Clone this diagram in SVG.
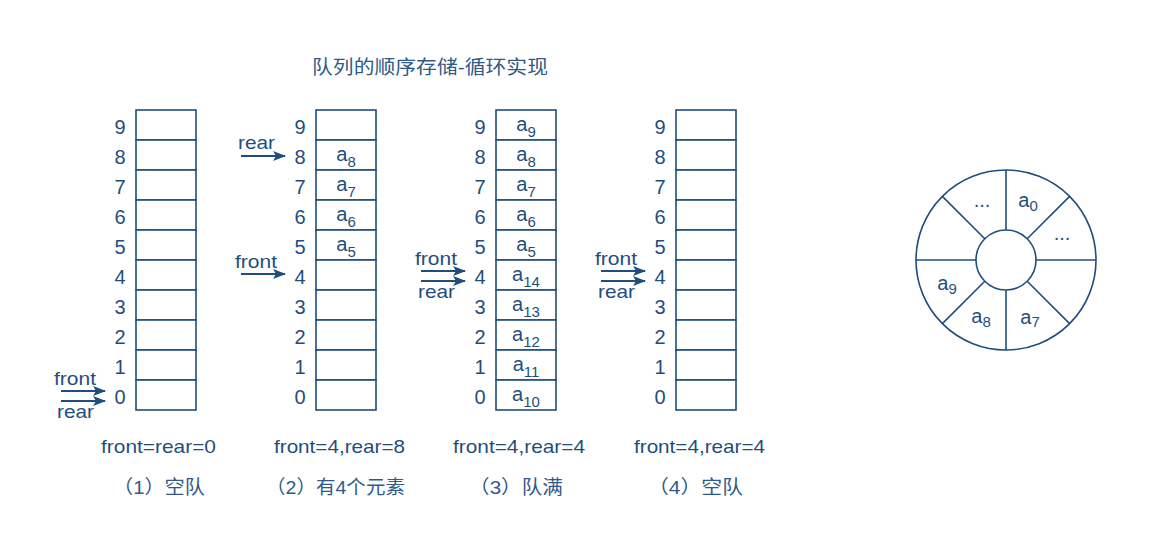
<svg xmlns="http://www.w3.org/2000/svg" width="1149" height="553" viewBox="0 0 1149 553">
<defs>
<style>
.cell{fill:#fff;stroke:#1f4e7e;stroke-width:1.6}
.t{font-family:"Liberation Sans",Arial,sans-serif;fill:#1f4e7e;font-size:19px}
.n{font-family:"Liberation Sans",Arial,sans-serif;fill:#1f4e7e;font-size:20px;text-anchor:middle}
.c{font-family:"Liberation Sans",Arial,sans-serif;fill:#1f4e7e;font-size:20px;text-anchor:middle}
.s{font-size:15px}
.cj{font-family:"Liberation Sans","Noto Sans CJK SC",sans-serif;fill:#2f5a88;font-size:19px}
.ar{stroke:#1f4e7e;stroke-width:2;fill:none;marker-end:url(#ah)}
.ln{stroke:#1f4e7e;stroke-width:1.6;fill:none}
</style>
<marker id="ah" markerUnits="userSpaceOnUse" markerWidth="14" markerHeight="12" refX="12" refY="5" orient="auto" viewBox="0 0 14 10">
<path d="M0,0 L13,5 L0,10 L3,5 z" fill="#1f4e7e"/>
</marker>
<g id="col">
<rect class="cell" x="0" y="0" width="60" height="30"/>
<rect class="cell" x="0" y="30" width="60" height="30"/>
<rect class="cell" x="0" y="60" width="60" height="30"/>
<rect class="cell" x="0" y="90" width="60" height="30"/>
<rect class="cell" x="0" y="120" width="60" height="30"/>
<rect class="cell" x="0" y="150" width="60" height="30"/>
<rect class="cell" x="0" y="180" width="60" height="30"/>
<rect class="cell" x="0" y="210" width="60" height="30"/>
<rect class="cell" x="0" y="240" width="60" height="30"/>
<rect class="cell" x="0" y="270" width="60" height="30"/>
<text class="n" x="-16" y="24">9</text>
<text class="n" x="-16" y="54">8</text>
<text class="n" x="-16" y="84">7</text>
<text class="n" x="-16" y="114">6</text>
<text class="n" x="-16" y="144">5</text>
<text class="n" x="-16" y="174">4</text>
<text class="n" x="-16" y="204">3</text>
<text class="n" x="-16" y="234">2</text>
<text class="n" x="-16" y="264">1</text>
<text class="n" x="-16" y="294">0</text>
</g>
</defs>
<rect width="1149" height="553" fill="#fff"/>
<text class="cj" x="312" y="74" font-size="20" textLength="236" lengthAdjust="spacingAndGlyphs">队列的顺序存储-循环实现</text>

<g id="queue1">
<use href="#col" x="136" y="110"/>
<text class="t" x="101" y="453" textLength="115" lengthAdjust="spacingAndGlyphs">front=rear=0</text>
<text class="cj" x="113" y="494" textLength="92" lengthAdjust="spacingAndGlyphs">（1）空队</text>
</g>

<g id="queue2">
<use href="#col" x="316" y="110"/>
<text class="c" x="346" y="161">a<tspan class="s" dy="6">8</tspan></text>
<text class="c" x="346" y="191">a<tspan class="s" dy="6">7</tspan></text>
<text class="c" x="346" y="221">a<tspan class="s" dy="6">6</tspan></text>
<text class="c" x="346" y="251">a<tspan class="s" dy="6">5</tspan></text>
<text class="t" x="274" y="453" textLength="131" lengthAdjust="spacingAndGlyphs">front=4,rear=8</text>
<text class="cj" x="266" y="494" textLength="139" lengthAdjust="spacingAndGlyphs">（2）有4个元素</text>
</g>

<g id="queue3">
<use href="#col" x="496" y="110"/>
<text class="c" x="526" y="131">a<tspan class="s" dy="6">9</tspan></text>
<text class="c" x="526" y="161">a<tspan class="s" dy="6">8</tspan></text>
<text class="c" x="526" y="191">a<tspan class="s" dy="6">7</tspan></text>
<text class="c" x="526" y="221">a<tspan class="s" dy="6">6</tspan></text>
<text class="c" x="526" y="251">a<tspan class="s" dy="6">5</tspan></text>
<text class="c" x="526" y="281">a<tspan class="s" dy="6">14</tspan></text>
<text class="c" x="526" y="311">a<tspan class="s" dy="6">13</tspan></text>
<text class="c" x="526" y="341">a<tspan class="s" dy="6">12</tspan></text>
<text class="c" x="526" y="371">a<tspan class="s" dy="6">11</tspan></text>
<text class="c" x="526" y="401">a<tspan class="s" dy="6">10</tspan></text>
<text class="t" x="453" y="453" textLength="132" lengthAdjust="spacingAndGlyphs">front=4,rear=4</text>
<text class="cj" x="469" y="494" textLength="94" lengthAdjust="spacingAndGlyphs">（3）队满</text>
</g>

<g id="queue4">
<use href="#col" x="676" y="110"/>
<text class="t" x="634" y="453" textLength="131" lengthAdjust="spacingAndGlyphs">front=4,rear=4</text>
<text class="cj" x="648" y="494" textLength="95" lengthAdjust="spacingAndGlyphs">（4）空队</text>
</g>

<g id="pointers">
<text class="t" x="54" y="385" textLength="42" lengthAdjust="spacingAndGlyphs">front</text>
<text class="t" x="57" y="418" textLength="37" lengthAdjust="spacingAndGlyphs">rear</text>
<text class="t" x="238" y="149" textLength="37" lengthAdjust="spacingAndGlyphs">rear</text>
<text class="t" x="235" y="268" textLength="42" lengthAdjust="spacingAndGlyphs">front</text>
<text class="t" x="415" y="265" textLength="42" lengthAdjust="spacingAndGlyphs">front</text>
<text class="t" x="418" y="298" textLength="37" lengthAdjust="spacingAndGlyphs">rear</text>
<text class="t" x="595" y="265" textLength="42" lengthAdjust="spacingAndGlyphs">front</text>
<text class="t" x="598" y="298" textLength="37" lengthAdjust="spacingAndGlyphs">rear</text>
</g>

<g id="connectors">
<line class="ar" x1="61" y1="391" x2="105" y2="391"/>
<line class="ar" x1="61" y1="401" x2="105" y2="401"/>
<line class="ar" x1="241" y1="156" x2="285" y2="156"/>
<line class="ar" x1="241" y1="274" x2="285" y2="274"/>
<line class="ar" x1="421" y1="271" x2="465" y2="271"/>
<line class="ar" x1="421" y1="281" x2="465" y2="281"/>
<line class="ar" x1="601" y1="271" x2="645" y2="271"/>
<line class="ar" x1="601" y1="281" x2="645" y2="281"/>
</g>

<g id="ring">
<circle class="ln" cx="1006" cy="260" r="90"/>
<circle class="ln" cx="1006" cy="260" r="30"/>
<line class="ln" x1="1006" y1="170" x2="1006" y2="230"/>
<line class="ln" x1="1006" y1="290" x2="1006" y2="350"/>
<line class="ln" x1="916" y1="260" x2="976" y2="260"/>
<line class="ln" x1="1036" y1="260" x2="1096" y2="260"/>
<line class="ln" x1="942.4" y1="196.4" x2="984.8" y2="238.8"/>
<line class="ln" x1="1027.2" y1="281.2" x2="1069.6" y2="323.6"/>
<line class="ln" x1="1069.6" y1="196.4" x2="1027.2" y2="238.8"/>
<line class="ln" x1="984.8" y1="281.2" x2="942.4" y2="323.6"/>
<text class="c" x="982" y="207">...</text>
<text class="c" x="1062" y="240">...</text>
<text class="c" x="1028" y="207">a<tspan class="s" dy="4">0</tspan></text>
<text class="c" x="947" y="290">a<tspan class="s" dy="4">9</tspan></text>
<text class="c" x="981" y="323">a<tspan class="s" dy="4">8</tspan></text>
<text class="c" x="1030" y="324">a<tspan class="s" dy="3">7</tspan></text>
</g>
</svg>
